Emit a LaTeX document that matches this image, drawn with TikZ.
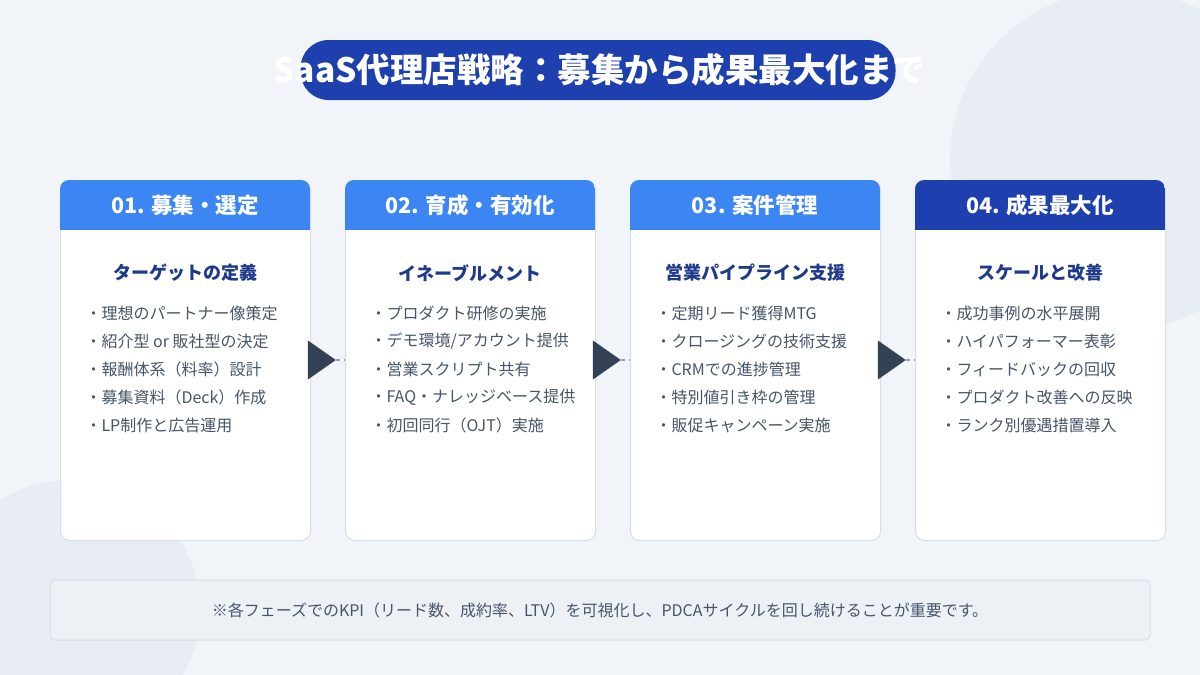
\documentclass[tikz,border=0pt]{standalone}
\usepackage{fontspec}
\setmainfont{Noto Sans CJK JP}
\usetikzlibrary{shapes.geometric}
\definecolor{bg}{HTML}{F1F4F8}
\definecolor{circ}{HTML}{E8ECF3}
\definecolor{navy}{HTML}{1E40AF}
\definecolor{hblue}{HTML}{3B86F2}
\definecolor{sub}{HTML}{1E3A8A}
\definecolor{txt}{HTML}{475569}
\definecolor{bord}{HTML}{D5DEE9}
\definecolor{arr}{HTML}{334155}
\tikzset{
  card/.style={draw=bord, line width=1pt, fill=white, rounded corners=9pt, minimum width=250pt, minimum height=360pt, anchor=north west},
  hdr/.style={fill=#1, minimum width=250pt, minimum height=50pt, anchor=north west},
  htext/.style={text=white, font=\fontsize{21.5}{24}\selectfont\bfseries},
  subt/.style={text=sub, font=\fontsize{18}{21}\selectfont\bfseries},
  bul/.style={text=txt, anchor=west, font=\fontsize{16}{19}\selectfont},
  tri/.style={fill=arr, isosceles triangle, isosceles triangle apex angle=70, inner sep=0pt, minimum height=28pt, minimum width=20pt},
}
\begin{document}
\begin{tikzpicture}[x=1pt,y=-1pt]
\useasboundingbox (0,0) rectangle (1200,675);
\fill[bg] (0,0) rectangle (1200,675);
\begin{scope}
\clip (0,0) rectangle (1200,675);
\fill[circ] (1120,160) circle (170);
\fill[circ] (70,610) circle (130);
\end{scope}
% title
\node[fill=navy, rounded corners=28pt, minimum width=595pt, minimum height=60pt] (tbox) at (598,70) {};
\node[text=white, font=\fontsize{33.5}{38}\selectfont\bfseries] (title) at (600,70) {SaaS代理店戦略：募集から成果最大化まで};
% cards
\foreach \i/\x/\c/\h/\s/\a/\b/\cc/\d/\e in {
 1/60/hblue/01. 募集・選定/ターゲットの定義/理想のパートナー像策定/紹介型 or 販社型の決定/報酬体系（料率）設計/募集資料（Deck）作成/LP制作と広告運用,
 2/345/hblue/02. 育成・有効化/イネーブルメント/プロダクト研修の実施/{デモ環境/アカウント提供}/営業スクリプト共有/FAQ・ナレッジベース提供/初回同行（OJT）実施,
 3/630/hblue/03. 案件管理/営業パイプライン支援/定期リード獲得MTG/クロージングの技術支援/CRMでの進捗管理/特別値引き枠の管理/販促キャンペーン実施,
 4/915/navy/04. 成果最大化/スケールと改善/成功事例の水平展開/ハイパフォーマー表彰/フィードバックの回収/プロダクト改善への反映/ランク別優遇措置導入}{
  \node[card] (card\i) at (\x,180) {};
  \begin{scope}
   \clip[rounded corners=9pt] (\x,180) rectangle ++(250,360);
   \node[hdr=\c] (hdr\i) at (\x,180) {};
  \end{scope}
  \node[htext] (ht\i) at (\x+125,205) {\h};
  \node[subt] (st\i) at (\x+125,273) {\s};
  \node[bul] (b\i a) at (\x+22,313) {・\a};
  \node[bul] (b\i b) at (\x+22,341) {・\b};
  \node[bul] (b\i c) at (\x+22,369) {・\cc};
  \node[bul] (b\i d) at (\x+22,397) {・\d};
  \node[bul] (b\i e) at (\x+22,425) {・\e};
}
% arrows
\foreach \x/\n in {318/1,603/2,888/3}{
  \node[tri] (ar\n) at (\x,360) {};
  \coordinate (ae\n) at (\x+27,360);
  \draw[arr!50, line width=1.2pt, dash pattern=on 4pt off 4pt] (ar\n.east) -- (ae\n);
}
% note
\node[draw=bord, line width=1pt, fill=bg!60!circ, rounded corners=5pt, minimum width=1100pt, minimum height=60pt, text=txt, font=\fontsize{16}{19}\selectfont] (note) at (600,610) {※各フェーズでのKPI（リード数、成約率、LTV）を可視化し、PDCAサイクルを回し続けることが重要です。};
\end{tikzpicture}
\end{document}
